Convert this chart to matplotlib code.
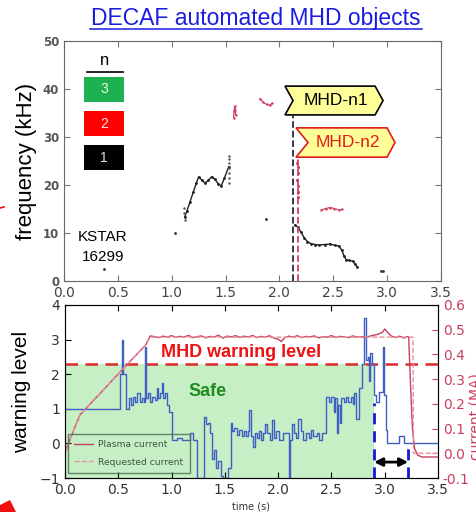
import numpy as np
import matplotlib.pyplot as plt
from matplotlib.patches import Polygon, Rectangle
from matplotlib.lines import Line2D

# ---- upper panel: mode frequencies (kHz) ----
n1_t = [1.12, 1.14, 1.17, 1.20, 1.23, 1.25, 1.28, 1.31, 1.34, 1.37, 1.40, 1.43, 1.46, 1.49, 1.53]
n1_f = [13.3, 14.5, 16.5, 18.5, 20.5, 21.7, 21.0, 20.4, 21.0, 21.7, 21.2, 20.3, 19.8, 21.5, 23.8]
n1_spread_t = [1.11, 1.11, 1.12, 1.53, 1.53, 1.53, 1.53, 1.53, 1.53, 1.53]
n1_spread_f = [14.2, 15.2, 12.8, 20.5, 21.5, 22.5, 23.5, 24.5, 25.5, 26.0]
n1b_t = [2.145, 2.17, 2.20, 2.23, 2.26, 2.29, 2.33, 2.37, 2.42, 2.47, 2.52, 2.55, 2.58, 2.60, 2.62, 2.65, 2.68, 2.70, 2.72]
n1b_f = [11.7, 11.2, 10.2, 9.0, 8.2, 7.8, 7.6, 7.5, 7.6, 7.7, 7.4, 7.3, 6.4, 5.2, 4.4, 4.3, 4.1, 3.6, 3.0]
n1_dot_t = [0.37, 1.03, 1.875, 2.94, 2.96]
n1_dot_f = [2.5, 10.0, 13.0, 2.0, 2.0]

n2a_t = [1.575, 1.58, 1.585, 1.59, 1.595]
n2a_f = [34.0, 35.5, 36.4, 35.6, 34.6]
n2b_t = [1.82, 1.85, 1.88, 1.91, 1.93]
n2b_f = [38.0, 37.2, 36.8, 36.6, 37.0]
n2c_t = [2.165, 2.175, 2.17, 2.165, 2.17, 2.175, 2.17]
n2c_f = [24.5, 23.8, 22.5, 21.0, 19.8, 18.5, 17.5]
n2d_t = [2.39, 2.43, 2.47, 2.51, 2.55, 2.58]
n2d_f = [14.8, 15.1, 15.3, 15.1, 14.8, 14.9]

t_mhd_n1 = 2.13
t_mhd_n2 = 2.17

# ---- lower panel: warning level and plasma current ----
warn_t = [0.0, 0.52, 0.535, 0.545, 0.575, 0.60, 0.62, 0.64, 0.66, 0.68, 0.70, 0.72, 0.74, 0.75, 0.76,
          0.78, 0.80, 0.82, 0.84, 0.86, 0.87, 0.89, 0.91, 0.92, 0.94, 0.96, 0.98, 1.00, 1.05, 1.10,
          1.17, 1.20, 1.24, 1.30, 1.32, 1.34, 1.36, 1.38, 1.40, 1.42, 1.44, 1.46, 1.48, 1.53, 1.555,
          1.57, 1.59, 1.61, 1.63, 1.66, 1.68, 1.70, 1.72, 1.73, 1.745, 1.76, 1.78, 1.80, 1.82, 1.84,
          1.86, 1.88, 1.90, 1.92, 1.94, 1.96, 1.98, 2.01, 2.05, 2.10, 2.115, 2.13, 2.15, 2.17, 2.19,
          2.21, 2.23, 2.26, 2.29, 2.31, 2.33, 2.36, 2.38, 2.41, 2.45, 2.48, 2.50, 2.52, 2.53, 2.55,
          2.56, 2.58, 2.59, 2.62, 2.64, 2.66, 2.68, 2.70, 2.71, 2.73, 2.76, 2.79, 2.81, 2.82, 2.84,
          2.85, 2.86, 2.88, 2.90, 2.92, 2.95, 2.98, 2.99, 3.01, 3.02, 3.13, 3.18, 3.5]
warn_lv = [1.0, 2.0, 3.0, 2.0, 1.0, 1.3, 1.1, 1.35, 1.2, 1.45, 1.2, 1.3, 1.2, 2.8, 1.3,
           1.45, 1.2, 1.35, 1.25, 1.6, 1.3, 1.45, 1.75, 1.3, 1.45, 1.1, 0.9, 0.1, 0.15, 0.1,
           0.3, 0.1, -1.0, 0.76, 0.55, 0.6, 0.3, -0.45, -0.2, -0.7, -0.5, -0.95, -1.0, -0.7, 0.6,
           0.35, 0.45, 0.25, 0.4, 0.2, 0.35, 0.2, 0.35, 0.97, 0.2, -0.1, 0.3, 0.15, 0.35, 0.1,
           0.3, 0.55, 0.3, 0.1, 0.68, 0.15, 0.35, 0.1, 0.3, -1.0, 0.1, 0.55, 0.3, 0.15, 0.7,
           0.35, 0.1, 0.3, 0.15, 0.4, 0.2, 0.3, 0.1, 0.3, 1.35, 1.2, 1.35, 0.9, 1.3, 0.3,
           1.1, 0.6, 1.3, 1.2, 1.35, 1.2, 1.35, 1.15, 1.45, 0.7, 1.6, 2.3, 3.62, 2.4, 2.5,
           1.8, 2.6, 2.3, 1.4, 1.2, 1.5, 2.8, 1.4, 0.4, 0.0, 0.2, 0.0, 0.0]

ip_t = [0.0, 0.05, 0.14, 0.53, 0.76, 0.80, 0.84, 0.88, 0.92, 0.96, 1.00, 1.04, 1.08, 1.12, 1.16,
        1.20, 1.24, 1.28, 1.32, 1.36, 1.40, 1.44, 1.48, 1.52, 1.56, 1.60, 1.64, 1.68, 1.72, 1.76,
        1.80, 1.84, 1.88, 1.92, 1.96, 2.00, 2.03, 2.06, 2.10, 2.14, 2.18, 2.22, 2.26, 2.30, 2.34,
        2.38, 2.42, 2.46, 2.50, 2.54, 2.58, 2.62, 2.66, 2.70, 2.74, 2.78, 2.82, 2.86, 2.90, 2.94,
        2.98, 3.00, 3.03, 3.06, 3.10, 3.14, 3.18, 3.21, 3.225, 3.24, 3.26, 3.28, 3.31, 3.35, 3.5]
ip_ma = [0.0, 0.06, 0.155, 0.335, 0.44, 0.475, 0.472, 0.468, 0.474, 0.47, 0.476, 0.469, 0.473, 0.471, 0.477,
         0.468, 0.472, 0.475, 0.467, 0.473, 0.47, 0.478, 0.466, 0.474, 0.471, 0.476, 0.469, 0.474, 0.47, 0.477,
         0.468, 0.473, 0.47, 0.476, 0.466, 0.462, 0.452, 0.468, 0.474, 0.47, 0.476, 0.468, 0.473, 0.471, 0.475,
         0.467, 0.472, 0.47, 0.476, 0.469, 0.473, 0.471, 0.468, 0.475, 0.47, 0.472, 0.468, 0.474, 0.478, 0.482,
         0.49, 0.503, 0.488, 0.475, 0.468, 0.474, 0.466, 0.472, 0.47, 0.3, 0.1, 0.02, -0.008, -0.015, -0.015]
req_t = [0.0, 0.05, 0.14, 0.53, 0.76, 0.80, 3.265, 3.27, 3.5]
req_ma = [0.0, 0.06, 0.155, 0.335, 0.44, 0.47, 0.47, 0.0, 0.0]

warning_threshold = 2.3
safe_end = 2.9
delay_start, delay_end = 2.9, 3.22

sans = ['Liberation Sans', 'DejaVu Sans']
pink = '#c8405e'

fig = plt.figure(figsize=(4.77, 5.12), dpi=100)

fig.text(256 / 477, 1 - 25 / 512, 'DECAF automated MHD objects', family=sans, fontsize=16.5,
         color='#1c1ce0', ha='center', va='baseline')
fig.add_artist(Line2D([90 / 477, 422 / 477], [1 - 29 / 512, 1 - 29 / 512], color='#1c1ce0', lw=1.1))

# upper panel
ax1 = fig.add_axes([64 / 477, 1 - 281 / 512, 377 / 477, 240 / 512])
ax1.set_xlim(0, 3.5)
ax1.set_ylim(0, 50)
ax1.set_xticks(np.arange(0, 3.51, 0.5))
ax1.set_yticks(np.arange(0, 51, 10))
ax1.tick_params(direction='in', top=True, right=True, length=4, color='#777777')
ax1.tick_params(axis='y', labelsize=8.5, labelcolor='#555555')
ax1.tick_params(axis='x', labelsize=10, labelcolor='#444444')
for lb in ax1.get_yticklabels():
    lb.set_fontweight('bold')
for s in ax1.spines.values():
    s.set_color('#666666')
ax1.set_ylabel('frequency (kHz)', family=sans, fontsize=16, labelpad=4)

ax1.plot(n1_t, n1_f, '-', color='#222222', lw=1.0, marker='.', ms=2)
ax1.plot(n1_spread_t, n1_spread_f, '.', color='#555555', ms=1.5)
ax1.plot(n1b_t, n1b_f, '-', color='#222222', lw=1.0, marker='.', ms=2)
ax1.plot(n1_dot_t, n1_dot_f, '.', color='#333333', ms=2)
for tt, ff in [(n2a_t, n2a_f), (n2b_t, n2b_f), (n2d_t, n2d_f)]:
    ax1.plot(tt, ff, '-', color='#d04060', lw=0.9, marker='.', ms=1.5)
ax1.plot(n2c_t, n2c_f, '.', color='#d04060', ms=2.5)

ax1.plot([t_mhd_n1, t_mhd_n1], [0, 34.6], '--', color='#2a2a40', lw=1.3)
ax1.plot([t_mhd_n2, t_mhd_n2], [0, 25.8], '--', color='#e03c5a', lw=1.3)

tag1 = Polygon([(2.052, 40.6), (2.888, 40.6), (2.962, 37.6), (2.888, 34.6), (2.052, 34.6), (2.126, 37.6)],
               closed=True, facecolor='#ffff99', edgecolor='black', lw=1.2, clip_on=False)
tag2 = Polygon([(2.154, 31.9), (2.999, 31.9), (3.073, 28.85), (2.999, 25.8), (2.154, 25.8), (2.266, 28.85)],
               closed=True, facecolor='#ffff99', edgecolor='#e51a1a', lw=1.2, clip_on=False)
ax1.add_patch(tag1)
ax1.add_patch(tag2)
ax1.text(2.52, 37.6, 'MHD-n1', family=sans, fontsize=12.5, color='black', ha='center', va='center')
ax1.text(2.64, 28.85, 'MHD-n2', family=sans, fontsize=12.5, color='#e51a1a', ha='center', va='center')

# colour key for toroidal mode number
ax1.text(0.372, 45.0, 'n', family=sans, fontsize=12, ha='center', va='baseline')
ax1.plot([0.214, 0.548], [43.5, 43.5], color='black', lw=1.2)
for lo, col, lab, tc in [(37.3, '#1fb050', '3', '#e8ffe8'), (30.2, '#ff0000', '2', '#ffe0e0'),
                         (23.1, '#000000', '1', '#dddddd')]:
    ax1.add_patch(Rectangle((0.186, lo), 0.371, 5.2, facecolor=col, edgecolor='none'))
    ax1.text(0.372, lo + 2.6, lab, family=sans, fontsize=10, color=tc, ha='center', va='center')

ax1.text(0.36, 9.2, 'KSTAR', family=sans, fontsize=11, ha='center', va='center')
ax1.text(0.36, 5.0, '16299', family=sans, fontsize=11, ha='center', va='center')

# lower panel
ax2 = fig.add_axes([65 / 477, 1 - 478 / 512, 373 / 477, 173 / 512])
ax2.set_xlim(0, 3.5)
ax2.set_ylim(-1, 4)
ax2.set_xticks(np.arange(0, 3.51, 0.5))
ax2.set_yticks(np.arange(-1, 5, 1))
ax2.tick_params(direction='in', top=True, right=False, length=4, labelsize=10, labelcolor='#333333')
for s in ax2.spines.values():
    s.set_color('#555555')
ax2.set_ylabel('warning level', family=sans, fontsize=15, labelpad=6)
ax2.set_xlabel('time (s)', fontsize=7, color='#333333', labelpad=3)

ax2.fill_between([0, safe_end], -1, warning_threshold, color='#c6efc6', lw=0)
ax2.axhline(warning_threshold, color='#e02828', ls='--', lw=1.8, dashes=(5, 3))
ax2.step(warn_t, warn_lv, where='post', color='#3f5fc4', lw=1.0)
ax2.text(0.9, 2.64, 'MHD warning level', family=sans, fontsize=13, fontweight='bold',
         color='#ee1111', va='center')
ax2.text(1.16, 1.49, 'Safe', family=sans, fontsize=13, fontweight='bold', color='#1e8c1e', va='center')

ax2.plot([delay_start, delay_start], [-1, 1.17], '--', color='#1818d8', lw=2, dashes=(4, 2.5))
ax2.plot([delay_end, delay_end], [-1, -0.13], '--', color='#1818d8', lw=2, dashes=(4, 2.5))
ax2.annotate('', xy=(delay_start, -0.54), xytext=(delay_end, -0.54),
             arrowprops=dict(arrowstyle='<|-|>', color='black', lw=2, mutation_scale=12, shrinkA=0, shrinkB=0))

ax2r = ax2.twinx()
ax2r.set_ylim(-0.1, 0.6)
ax2r.set_yticks(np.arange(-0.1, 0.61, 0.1))
ax2r.set_yticklabels(['%.1f' % v for v in np.arange(-0.1, 0.61, 0.1)])
ax2r.tick_params(direction='in', length=4, labelsize=10, labelcolor=pink, color=pink)
ax2r.plot(ip_t, ip_ma, '-', color=pink, lw=1.0, label='Plasma current')
ax2r.plot(req_t, req_ma, '--', color='#e8909e', lw=1.0, label='Requested current')
leg = ax2r.legend(loc='lower left', bbox_to_anchor=(0.008, 0.029), fontsize=6.6, frameon=True,
                  borderaxespad=0, handlelength=2.0, handletextpad=0.6, borderpad=0.7, labelspacing=0.9)
leg.get_frame().set_facecolor('none')
leg.get_frame().set_edgecolor('#4a6a4a')
leg.get_frame().set_linewidth(1.0)
leg.get_frame().set_boxstyle('square', pad=0)
for tx in leg.get_texts():
    tx.set_color('#3f553f')
fig.text(476 / 477, 1 - 417 / 512, 'current (MA)', rotation=90, fontsize=10, color=pink,
         ha='center', va='center')

# red pen strokes at the left edge
fig.add_artist(Polygon([(0, 7 / 512), (10 / 477, 12 / 512), (16 / 477, 0), (0, 0)],
                       closed=True, transform=fig.transFigure, facecolor='#ee1010', edgecolor='none'))
fig.add_artist(Line2D([0, 4 / 477], [1 - 208 / 512, 1 - 207 / 512], color='#ee1010', lw=1.2))

fig.savefig('out.png', dpi=100)
